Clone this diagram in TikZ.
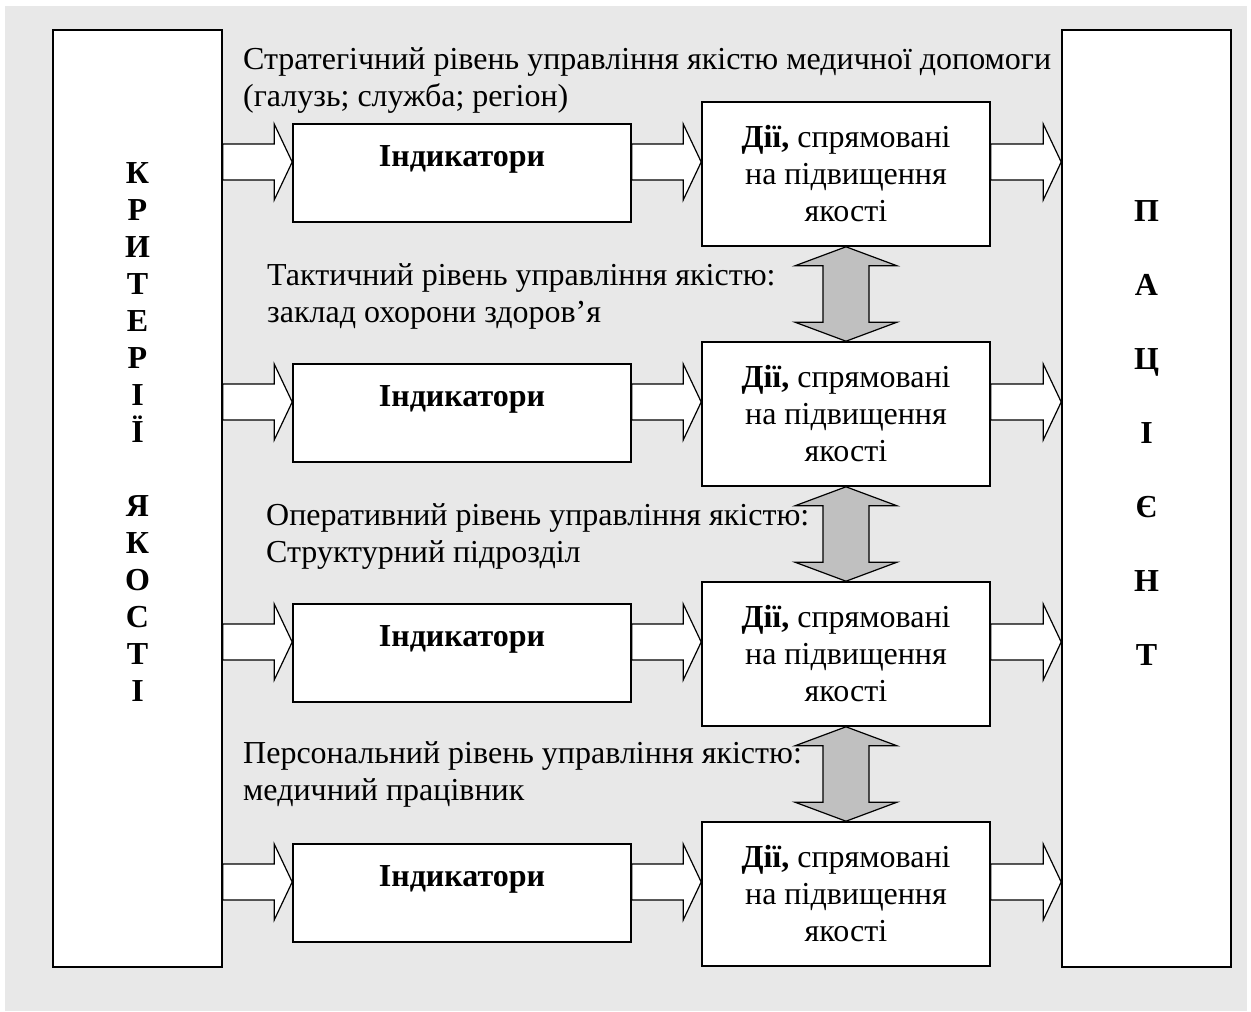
\documentclass[tikz,border=0pt]{standalone}
\usepackage{fontspec}
\setmainfont{Liberation Serif}
\usetikzlibrary{calc}
\definecolor{bggray}{HTML}{E8E8E8}
\definecolor{dgray}{HTML}{C0C0C0}
\newcommand\harrow[2]{\draw[blockarr] ($(#1)+(0,-18)$) -- ($(#2)+(-18,-18)$) -- ($(#2)+(-18,-38)$) -- (#2) -- ($(#2)+(-18,38)$) -- ($(#2)+(-18,18)$) -- ($(#1)+(0,18)$) -- cycle;}
\newcommand\varrow[2]{\draw[dblarr] (#1) -- ($(#1)+(51,19)$) -- ($(#1)+(23,19)$) -- ($(#2)+(23,-19)$) -- ($(#2)+(51,-19)$) -- (#2) -- ($(#2)+(-51,-19)$) -- ($(#2)+(-23,-19)$) -- ($(#1)+(-23,19)$) -- ($(#1)+(-51,19)$) -- cycle;}
\tikzset{
  mainfont/.style={font=\fontsize{32}{37}\selectfont},
  bigbox/.style={draw, fill=white, line width=1.6pt, minimum width=169pt, minimum height=937pt, inner sep=0pt},
  indbox/.style={draw, fill=white, line width=1.6pt, minimum width=338pt, minimum height=98pt, inner sep=0pt, font=\fontsize{32}{37}\selectfont\bfseries, text height=22pt, text depth=35pt},
  actbox/.style={draw, fill=white, line width=1.6pt, minimum width=288pt, minimum height=144pt, inner sep=0pt, align=center, mainfont},
  lbl/.style={anchor=north west, align=left, inner sep=0pt, mainfont},
  coltext/.style={anchor=north, align=center, inner sep=0pt, font=\fontsize{32}{37}\selectfont\bfseries},
  blockarr/.style={draw, fill=white, line width=1.2pt, line join=miter},
  dblarr/.style={draw, fill=dgray, line width=1.2pt, line join=miter}
}
\begin{document}
\begin{tikzpicture}[x=1pt,y=-1pt]
\fill[white] (0,0) rectangle (1251,1012);
\fill[bggray] (5,6) rectangle (1247,1011);
\useasboundingbox (0,0) rectangle (1251,1012);
% side boxes
\node[bigbox] (L) at (137.5,498.5) {};
\node[bigbox] (R) at (1146.5,498.5) {};
\node[coltext] (Ltxt) at (137.5,162) {К\\Р\\И\\Т\\Е\\Р\\І\\Ї\\[37pt]Я\\К\\О\\С\\Т\\І};
\node[coltext] (Rtxt) at (1146.5,200) {П\\[37pt]А\\[37pt]Ц\\[37pt]І\\[37pt]Є\\[37pt]Н\\[37pt]Т};
% level labels
\node[lbl] (T1) at (243,39) {\rule{0pt}{30pt}Стратегічний рівень управління якістю медичної допомоги\\(галузь; служба; регіон)};
\node[lbl] (T2) at (267,255) {\rule{0pt}{30pt}Тактичний рівень управління якістю:\\заклад охорони здоров’я};
\node[lbl] (T3) at (266,495) {\rule{0pt}{30pt}Оперативний рівень управління якістю:\\Структурний підрозділ};
\node[lbl] (T4) at (243,733) {\rule{0pt}{30pt}Персональний рівень управління якістю:\\медичний працівник};
% rows
\foreach \k in {1,2,3,4}{
  \pgfmathsetmacro{\yi}{173+240*(\k-1)}
  \pgfmathsetmacro{\ya}{174+240*(\k-1)}
  \pgfmathsetmacro{\yr}{162+240*(\k-1)}
  \node[indbox] (I\k) at (462,\yi) {Індикатори};
  \node[actbox] (A\k) at (846,\ya) {\textbf{Дії,} спрямовані\\на підвищення\\якості};
  \coordinate (y\k) at (0,\yr);
  \coordinate (s\k) at (L.east |- y\k);
  \coordinate (e\k) at (I\k.west |- y\k);
  \coordinate (m\k) at (I\k.east |- y\k);
  \coordinate (n\k) at (A\k.west |- y\k);
  \coordinate (o\k) at (A\k.east |- y\k);
  \coordinate (p\k) at (R.west |- y\k);
  \harrow{s\k}{e\k}
  \harrow{m\k}{n\k}
  \harrow{o\k}{p\k}
}
\varrow{A1.south}{A2.north}
\varrow{A2.south}{A3.north}
\varrow{A3.south}{A4.north}
\end{tikzpicture}
\end{document}
